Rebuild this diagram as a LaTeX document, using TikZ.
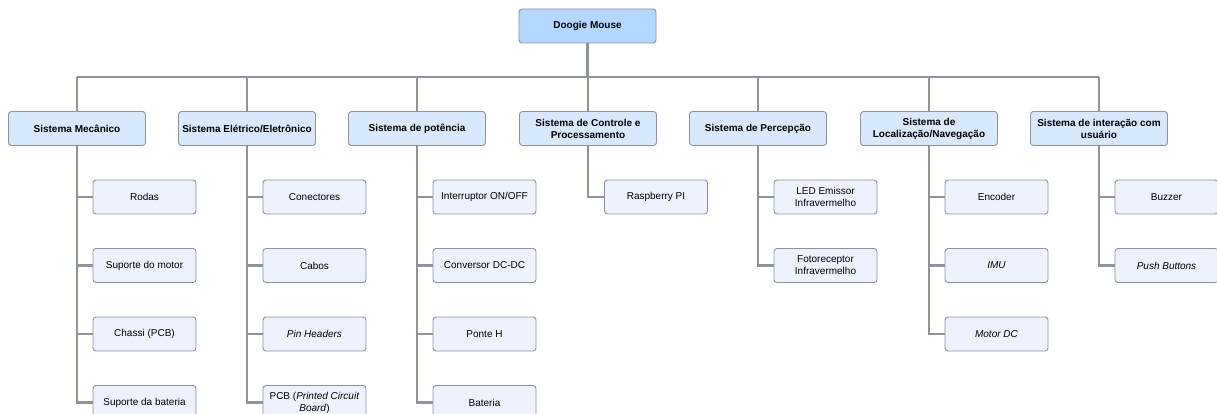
\documentclass[tikz,border=0pt]{standalone}
\usepackage{fontspec}
\setmainfont{Liberation Sans}
\begin{document}
\definecolor{rootfill}{HTML}{B3D7FF}
\definecolor{catfill}{HTML}{DAE8FC}
\definecolor{leaffill}{HTML}{EEF2FC}
\definecolor{boxline}{HTML}{8C939E}
\definecolor{wire}{HTML}{8E949C}
\begin{tikzpicture}[x=1pt,y=-1pt,
  box/.style={draw=boxline,line width=0.9pt,rounded corners=3pt,
    minimum width=137pt,minimum height=34pt,inner sep=2pt,align=center,
    font=\fontsize{10}{12}\selectfont},
  rootbox/.style={box,fill=rootfill,font=\fontsize{10}{12}\selectfont\bfseries},
  catbox/.style={box,fill=catfill,font=\fontsize{10}{12}\selectfont\bfseries},
  leafbox/.style={box,fill=leaffill,minimum width=103pt},
  conn/.style={draw=wire,line width=2.6pt}]
\useasboundingbox (0,0) rectangle (1217,414);

% top level
\node[rootbox] (root) at (587.5,26) {Doogie Mouse};

% subsystems
\node[catbox] (c1) at (77,128.5) {Sistema Mecânico};
\node[catbox] (c2) at (247,128.5) {Sistema Elétrico/Eletrônico};
\node[catbox] (c3) at (417,128.5) {Sistema de potência};
\node[catbox] (c4) at (588,128.5) {Sistema de Controle e\\Processamento};
\node[catbox] (c5) at (758,128.5) {Sistema de Percepção};
\node[catbox] (c6) at (929,128.5) {Sistema de\\Localização/Navegação};
\node[catbox] (c7) at (1099,128.5) {Sistema de interação com\\usuário};

% components (offset 68.5 right of each trunk)
\node[leafbox] (a1) at (144.5,197) {Rodas};
\node[leafbox] (a2) at (144.5,265.5) {Suporte do motor};
\node[leafbox] (a3) at (144.5,334) {Chassi (PCB)};
\node[leafbox] (a4) at (144.5,402.5) {Suporte da bateria};

\node[leafbox] (b1) at (314.5,197) {Conectores};
\node[leafbox] (b2) at (314.5,265.5) {Cabos};
\node[leafbox] (b3) at (314.5,334) {\textit{Pin Headers}};
\node[leafbox] (b4) at (314.5,402.5) {PCB (\textit{Printed Circuit}\\\textit{Board})};

\node[leafbox] (p1) at (484.5,197) {Interruptor ON/OFF};
\node[leafbox] (p2) at (484.5,265.5) {Conversor DC-DC};
\node[leafbox] (p3) at (484.5,334) {Ponte H};
\node[leafbox] (p4) at (484.5,402.5) {Bateria};

\node[leafbox] (k1) at (656,197) {Raspberry PI};

\node[leafbox] (e1) at (825.5,197) {LED Emissor\\Infravermelho};
\node[leafbox] (e2) at (825.5,265.5) {Fotoreceptor\\Infravermelho};

\node[leafbox] (n1) at (996.5,197) {Encoder};
\node[leafbox] (n2) at (996.5,265.5) {\textit{IMU}};
\node[leafbox] (n3) at (996.5,334) {\textit{Motor DC}};

\node[leafbox] (u1) at (1166.5,197) {Buzzer};
\node[leafbox] (u2) at (1166.5,265.5) {\textit{Push Buttons}};

% distribution bus
\coordinate (busL) at (77,77);
\coordinate (busR) at (1099,77);
\draw[conn] (root.south) -- (root.south|-busL);
\draw[conn] (busL) -- (busR);
\foreach \c in {c1,c2,c3,c4,c5,c6,c7}
  \draw[conn] (\c.north) -- (\c.north|-busL);

% trunks and branches
\foreach \c/\l in {c1/a1,c1/a2,c1/a3,c1/a4,
                   c2/b1,c2/b2,c2/b3,c2/b4,
                   c3/p1,c3/p2,c3/p3,c3/p4,
                   c4/k1,
                   c5/e1,c5/e2,
                   c6/n1,c6/n2,c6/n3,
                   c7/u1,c7/u2}
  \draw[conn] (\c.south) |- (\l.west);
\end{tikzpicture}
\end{document}
